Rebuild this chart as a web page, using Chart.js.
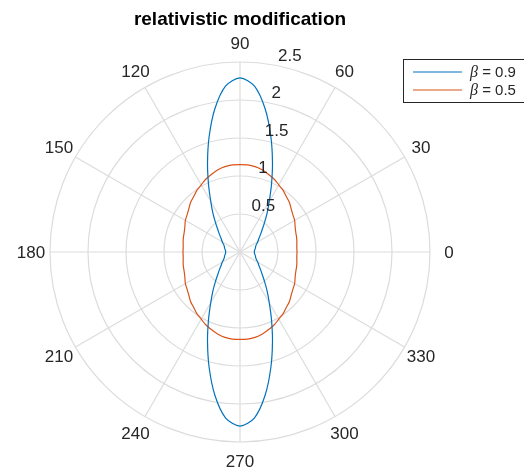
<!DOCTYPE html>
<html lang="en">
<head>
  <meta charset="UTF-8">
  <title>relativistic modification</title>
  <script src="https://cdn.jsdelivr.net/npm/chart.js@4/dist/chart.umd.min.js"></script>
  <style>
    * { margin: 0; padding: 0; }
    body { background: #fff; width: 524px; height: 476px; overflow: hidden; }
    canvas { display: block; }
  </style>
</head>
<body>
  <canvas id="polar" width="524" height="476"></canvas>

  <script>
    // ── Data (every 5 degrees) ─────────────────────────────────────────────────
    const angles = [];
    for (let a = 0; a < 360; a += 5) angles.push(a);

    const betas = [0.9, 0.5];

    const beta09 = [
      0.19, 0.19, 0.20, 0.21, 0.22, 0.24, 0.27, 0.30, 0.35, 0.41, 0.50, 0.62, 0.77, 0.98, 1.25, 1.57, 1.91, 2.19, 2.29,
      2.19, 1.91, 1.57, 1.25, 0.98, 0.77, 0.62, 0.50, 0.41, 0.35, 0.30, 0.27, 0.24, 0.22, 0.21, 0.20, 0.19, 0.19,
      0.19, 0.20, 0.21, 0.22, 0.24, 0.27, 0.30, 0.35, 0.41, 0.50, 0.62, 0.77, 0.98, 1.25, 1.57, 1.91, 2.19, 2.29,
      2.19, 1.91, 1.57, 1.25, 0.98, 0.77, 0.62, 0.50, 0.41, 0.35, 0.30, 0.27, 0.24, 0.22, 0.21, 0.20, 0.19,
    ];

    const beta05 = [
      0.75, 0.75, 0.76, 0.77, 0.78, 0.80, 0.83, 0.85, 0.88, 0.92, 0.95, 0.99, 1.02, 1.06, 1.09, 1.12, 1.14, 1.15, 1.15,
      1.15, 1.14, 1.12, 1.09, 1.06, 1.02, 0.99, 0.95, 0.92, 0.88, 0.85, 0.83, 0.80, 0.78, 0.77, 0.76, 0.75, 0.75,
      0.75, 0.76, 0.77, 0.78, 0.80, 0.83, 0.85, 0.88, 0.92, 0.95, 0.99, 1.02, 1.06, 1.09, 1.12, 1.14, 1.15, 1.15,
      1.15, 1.14, 1.12, 1.09, 1.06, 1.02, 0.99, 0.95, 0.92, 0.88, 0.85, 0.83, 0.80, 0.78, 0.77, 0.76, 0.75,
    ];

    const rTicks = [0.5, 1, 1.5, 2, 2.5];
    const thetaTicks = [0, 30, 60, 90, 120, 150, 180, 210, 240, 270, 300, 330];

    // ── Style ──────────────────────────────────────────────────────────────────
    const FONT = "'Liberation Sans', Arial, Helvetica, sans-serif";
    const GRID = '#dcdcdc';
    const TXT = '#262626';
    const COLORS = ['#0072BD', '#D95319'];

    // radar runs clockwise from 3 o'clock (startAngle 90) -> feed angles in reverse
    const order = angles.map((_, k) => (angles.length - k) % angles.length);
    const radarLabels = order.map((i) => angles[i]);
    const reorder = (arr) => order.map((i) => arr[i]);

    // ── Plugins: theta labels, r tick labels, legend box ──────────────────────
    const polarText = {
      id: 'polarText',
      afterDraw(chart) {
        const { ctx } = chart;
        const s = chart.scales.r;
        ctx.save();
        ctx.fillStyle = TXT;
        ctx.font = `17px ${FONT}`;

        // theta labels
        ctx.textAlign = 'center';
        ctx.textBaseline = 'middle';
        const dist = s.drawingArea + 19;
        thetaTicks.forEach((a) => {
          const t = (a * Math.PI) / 180;
          ctx.fillText(String(a), s.xCenter + dist * Math.cos(t), s.yCenter - dist * Math.sin(t) + 1);
        });

        // r labels along 80 degrees
        ctx.textAlign = 'left';
        ctx.textBaseline = 'alphabetic';
        const t80 = (80 * Math.PI) / 180;
        rTicks.forEach((v) => {
          const d = s.getDistanceFromCenterForValue(v);
          ctx.fillText(String(v), s.xCenter + d * Math.cos(t80) + 5, s.yCenter - d * Math.sin(t80) - 4);
        });

        // legend (runs off the right edge like the original)
        const bx = 403, by = 59, bw = 126, rowH = 18, bh = rowH * 2 + 8;
        ctx.fillStyle = '#fff';
        ctx.fillRect(bx, by, bw, bh);
        ctx.strokeStyle = '#262626';
        ctx.lineWidth = 1;
        ctx.strokeRect(bx + 0.5, by + 0.5, bw - 1, bh - 1);
        chart.data.datasets.forEach((ds, i) => {
          const y = by + 4 + rowH * i + rowH / 2;
          ctx.strokeStyle = ds.borderColor;
          ctx.lineWidth = 1.2;
          ctx.beginPath();
          ctx.moveTo(bx + 10, y);
          ctx.lineTo(bx + 59, y);
          ctx.stroke();
          ctx.fillStyle = TXT;
          ctx.textBaseline = 'middle';
          ctx.font = `italic 16px 'Liberation Serif', 'Times New Roman', serif`;
          const greek = ds.label.charAt(0);
          ctx.fillText(greek, bx + 67, y + 1);
          const gw = ctx.measureText(greek).width;
          ctx.font = `15px ${FONT}`;
          ctx.fillText(ds.label.slice(1), bx + 67 + gw, y + 1);
        });
        ctx.restore();
      },
    };

    new Chart(document.getElementById('polar'), {
      type: 'radar',
      data: {
        labels: radarLabels,
        datasets: [
          { label: `β = ${betas[0]}`, data: reorder(beta09), borderColor: COLORS[0] },
          { label: `β = ${betas[1]}`, data: reorder(beta05), borderColor: COLORS[1] },
        ],
      },
      options: {
        responsive: false,
        animation: false,
        layout: { padding: { left: 50, right: 94, top: 0, bottom: 33 } },
        elements: {
          line: { borderWidth: 1.2, tension: 0.3, fill: false },
          point: { radius: 0, hoverRadius: 0 },
        },
        plugins: {
          legend: { display: false },
          tooltip: { enabled: false },
          title: {
            display: true,
            text: 'relativistic modification',
            fullSize: false,
            color: '#000',
            font: { family: FONT, size: 19, weight: 'bold', lineHeight: 1.2 },
            padding: { top: 8, bottom: 32 },
          },
        },
        scales: {
          r: {
            startAngle: 90,
            min: 0,
            max: 2.5,
            ticks: { stepSize: 0.5, display: false },
            grid: { circular: true, color: GRID, lineWidth: 1.2 },
            angleLines: {
              color: (c) => (radarLabels[c.index] % 30 === 0 ? GRID : 'rgba(0,0,0,0)'),
              lineWidth: 1.2,
            },
            pointLabels: { display: false },
          },
        },
      },
      plugins: [polarText],
    });
  </script>
</body>
</html>
